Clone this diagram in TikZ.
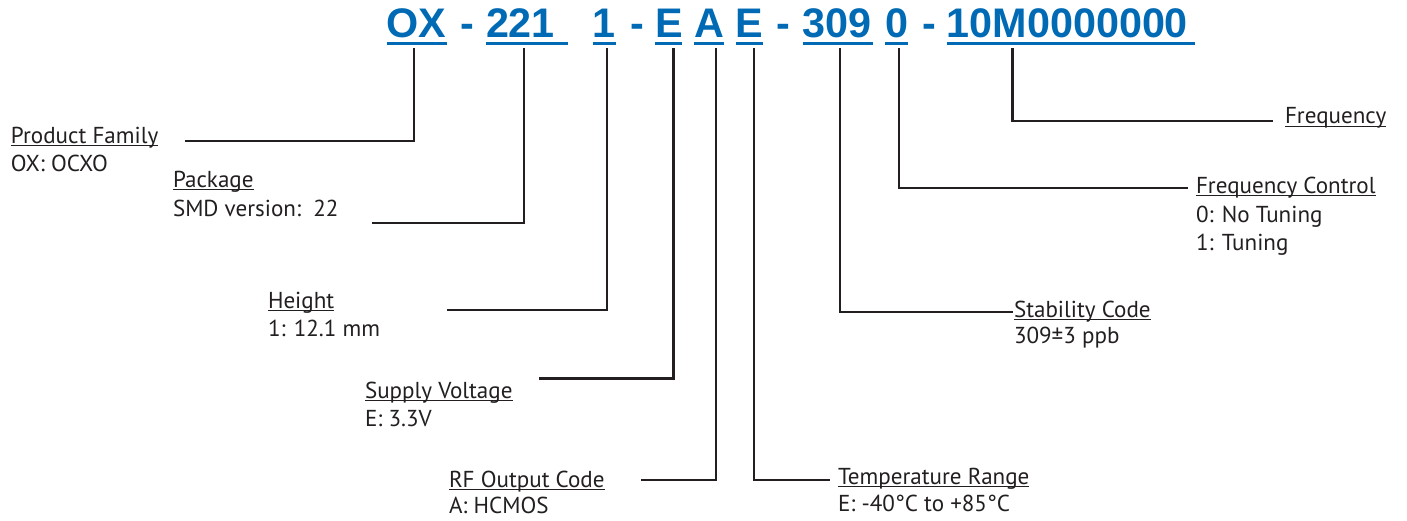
\documentclass[tikz,border=0pt]{standalone}
\usepackage{fontspec}
\setmainfont{PT Sans}
\newfontfamily\codefont{Liberation Sans}
\definecolor{codeblue}{RGB}{0,106,180}
\definecolor{ink}{RGB}{35,31,32}
\newcommand\ulab[1]{\setbox0\hbox{#1}\rlap{\rule[-2.4pt]{\wd0}{0.8pt}}\box0}
\begin{document}
\begin{tikzpicture}[x=0.75pt,y=-0.75pt,
  code/.style={anchor=base west,inner sep=0,outer sep=0,text=codeblue,font=\codefont\bfseries\fontsize{31}{31}\selectfont},
  lab/.style={anchor=base west,inner sep=0,outer sep=0,text=ink,font=\fontsize{17.3}{20}\selectfont},
  conn/.style={draw=ink,line width=1.9pt},
  uline/.style={draw=codeblue,line width=2.3pt}]
\useasboundingbox (0,0) rectangle (1407,521);
% part number segments
\node[code] (ox)   at (386.7,37) {OX};
\node[code] (d1)   at (460.7,37) {-};
\node[code] (pk)   at (486,37)   {221};
\node[code] (ht)   at (592.7,37) {1};
\node[code] (d2)   at (630,37)   {-};
\node[code] (sv)   at (655,37)   {E};
\node[code] (rf)   at (694,37)   {A};
\node[code] (tr)   at (735.7,37) {E};
\node[code] (d3)   at (776.7,37) {-};
\node[code] (sc)   at (802.7,37) {309};
\node[code] (fc)   at (885,37)   {0};
\node[code] (d4)   at (922.7,37) {-};
\node[code] (fq)   at (946.7,37) {10M0000000};
% underlines
\draw[uline] (386.7,43.5) -- (447.3,43.5);
\draw[uline] (486,43.5) -- (568,43.5);
\draw[uline] (592.7,43.5) -- (616,43.5);
\draw[uline] (655,43.5) -- (681.7,43.5);
\draw[uline] (694,43.5) -- (724,43.5);
\draw[uline] (735.7,43.5) -- (762.7,43.5);
\draw[uline] (802.7,43.5) -- (872.7,43.5);
\draw[uline] (885,43.5) -- (908.3,43.5);
\draw[uline] (946.7,43.5) -- (1195,43.5);
% labels
\node[lab] (pf)   at (11,143)    {\ulab{Product Family}};
\node[lab] (pfv)  at (11,171.7)  {OX: OCXO};
\node[lab] (pa)   at (173,187)   {\ulab{Package}};
\node[lab] (pav)  at (173,216.7) {SMD version:\ \ 22};
\node[lab] (he)   at (268,308)   {\ulab{Height}};
\node[lab] (hev)  at (268,336.7) {1: 12.1 mm};
\node[lab] (su)   at (365,398)   {\ulab{Supply Voltage}};
\node[lab] (suv)  at (365,426.7) {E: 3.3V};
\node[lab] (ro)   at (449,487)   {\ulab{RF Output Code}};
\node[lab] (rov)  at (449,513)   {A: HCMOS};
\node[lab] (te)   at (838,484)   {\ulab{Temperature Range}};
\node[lab] (tev)  at (838,511.7) {E: -40°C to +85°C};
\node[lab] (st)   at (1014,317)  {\ulab{Stability Code}};
\node[lab] (stv)  at (1014,343)  {309±3 ppb};
\node[lab] (fco)  at (1196,193)  {\ulab{Frequency Control}};
\node[lab] (fcv1) at (1196,222)  {0: No Tuning};
\node[lab] (fcv2) at (1196,250.5){1: Tuning};
\node[lab] (fr)   at (1285,123.5){\ulab{Frequency}};
% connector points
\coordinate (k-ox) at (414,48);  \coordinate (e-pf) at (185,141);
\coordinate (k-pk) at (524,48);  \coordinate (e-pa) at (372,223);
\coordinate (k-ht) at (607,48);  \coordinate (e-he) at (447,310);
\coordinate (k-sv) at (673.5,48);\coordinate (e-su) at (539,378.5);
\coordinate (k-rf) at (716,48);  \coordinate (e-ro) at (641,480);
\coordinate (k-tr) at (754,48);  \coordinate (e-te) at (830,480);
\coordinate (k-sc) at (840,48);  \coordinate (e-st) at (1013,312);
\coordinate (k-fc) at (899,48);  \coordinate (e-fc) at (1188,188);
\coordinate (k-fq) at (1012.5,48);\coordinate (e-fr) at (1273,121);
\draw[conn] (k-ox) |- (e-pf);
\draw[conn] (k-pk) |- (e-pa);
\draw[conn] (k-ht) |- (e-he);
\draw[conn] (k-sv) |- (e-su);
\draw[conn] (k-rf) |- (e-ro);
\draw[conn] (k-tr) |- (e-te);
\draw[conn] (k-sc) |- (e-st);
\draw[conn] (k-fc) |- (e-fc);
\draw[conn] (k-fq) |- (e-fr);
\end{tikzpicture}
\end{document}
